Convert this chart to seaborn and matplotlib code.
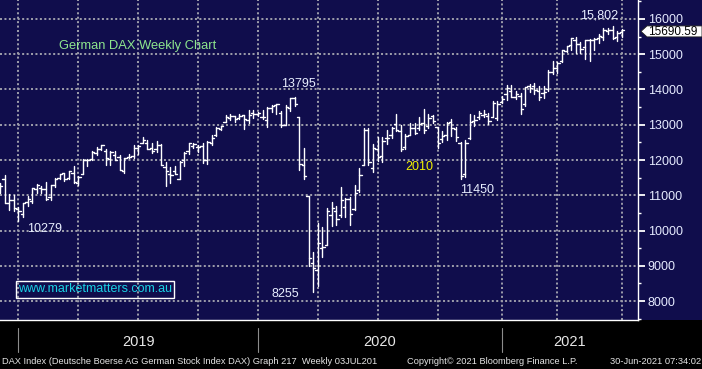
import numpy as np
import pandas as pd
import matplotlib
matplotlib.use("Agg")
import matplotlib.pyplot as plt
import matplotlib.transforms as mtransforms
from matplotlib.patches import Rectangle, Polygon
import seaborn as sns

# ---------------- data (weekly OHLC, DAX index) ----------------
week_end = [
    "2018-11-30", "2018-12-07", "2018-12-14", "2018-12-21", "2018-12-28",
    "2019-01-04", "2019-01-11", "2019-01-18", "2019-01-25", "2019-02-01", "2019-02-08", "2019-02-15", "2019-02-22",
    "2019-03-01", "2019-03-08", "2019-03-15", "2019-03-22", "2019-03-29", "2019-04-05", "2019-04-12", "2019-04-18",
    "2019-04-26", "2019-05-03", "2019-05-10", "2019-05-17", "2019-05-24", "2019-05-31", "2019-06-07", "2019-06-14",
    "2019-06-21", "2019-06-28", "2019-07-05", "2019-07-12", "2019-07-19", "2019-07-26", "2019-08-02", "2019-08-09",
    "2019-08-16", "2019-08-23", "2019-08-30", "2019-09-06", "2019-09-13", "2019-09-20", "2019-09-27", "2019-10-04",
    "2019-10-11", "2019-10-18", "2019-10-25", "2019-11-01", "2019-11-08", "2019-11-15", "2019-11-22", "2019-11-29",
    "2019-12-06", "2019-12-13", "2019-12-20", "2019-12-27",
    "2020-01-03", "2020-01-10", "2020-01-17", "2020-01-24", "2020-01-31", "2020-02-07", "2020-02-14", "2020-02-21",
    "2020-02-28", "2020-03-06", "2020-03-13", "2020-03-20", "2020-03-27", "2020-04-03", "2020-04-09", "2020-04-17",
    "2020-04-24", "2020-05-01", "2020-05-08", "2020-05-15", "2020-05-22", "2020-05-29", "2020-06-05", "2020-06-12",
    "2020-06-19", "2020-06-26", "2020-07-03", "2020-07-10", "2020-07-17", "2020-07-24", "2020-07-31", "2020-08-07",
    "2020-08-14", "2020-08-21", "2020-08-28", "2020-09-04", "2020-09-11", "2020-09-18", "2020-09-25", "2020-10-02",
    "2020-10-09", "2020-10-16", "2020-10-23", "2020-10-30", "2020-11-06", "2020-11-13", "2020-11-20", "2020-11-27",
    "2020-12-04", "2020-12-11", "2020-12-18", "2020-12-24", "2020-12-31",
    "2021-01-08", "2021-01-15", "2021-01-22", "2021-01-29", "2021-02-05", "2021-02-12", "2021-02-19", "2021-02-26",
    "2021-03-05", "2021-03-12", "2021-03-19", "2021-03-26", "2021-04-01", "2021-04-09", "2021-04-16", "2021-04-23",
    "2021-04-30", "2021-05-07", "2021-05-14", "2021-05-21", "2021-05-28", "2021-06-04", "2021-06-11", "2021-06-18",
    "2021-06-25", "2021-06-30",
]
opens = [
    11192, 11465, 10778, 10868, 10617,
    10477, 10795, 10824, 11177, 11210, 11176, 10955, 11292, 11500, 11640, 11487, 11645, 11350, 11604, 11997, 12036,
    12188, 12309, 12248, 12018, 12154, 12073, 11700, 12080, 12103, 12332, 12496, 12489, 12341, 12301, 12432, 11814,
    11597, 11680, 11466, 11991, 12264, 12395, 12361, 12405, 12001, 12485, 12700, 12877, 13074, 13200, 13255, 13205,
    13278, 13131, 13346, 13300,
    13233, 13133, 13466, 13549, 13325, 12988, 13487, 13746, 13219, 11848, 10985, 9081, 8870, 9500, 9600, 10450,
    10560, 10450, 10670, 10900, 10600, 11159, 11860, 12840, 11770, 12300, 12100, 12632, 12696, 13016, 12823, 12366,
    12711, 12910, 12899, 13063, 12956, 13235, 12950, 12600, 12700, 13070, 12880, 12484, 11600, 12618, 13116, 13208,
    13282, 13240, 13215, 13200, 13650,
    13880, 13950, 13800, 13810, 13600, 14100, 14110, 13950, 13900, 14000, 14500, 14600, 14800, 15100, 15250, 15400,
    15300, 15200, 15400, 15400, 15450, 15500, 15650, 15700, 15500, 15620,
]
highs = [
    11358, 11566, 11038, 10993, 10656,
    10768, 10979, 11206, 11311, 11267, 11368, 11304, 11476, 11617, 11640, 11686, 11823, 11540, 12024, 12021, 12253,
    12363, 12438, 12320, 12264, 12260, 12150, 12049, 12180, 12421, 12435, 12656, 12561, 12469, 12528, 12451, 11945,
    11805, 11836, 11972, 12226, 12488, 12483, 12437, 12470, 12539, 12712, 12935, 12974, 13289, 13299, 13255, 13302,
    13278, 13425, 13425, 13361,
    13425, 13503, 13549, 13596, 13401, 13551, 13756, 13795, 13220, 12329, 10985, 9382, 10201, 10112, 10625, 10819,
    10700, 11228, 10930, 10942, 11303, 11781, 12910, 12913, 12462, 12643, 12653, 12852, 12945, 13314, 12992, 12740,
    13047, 13051, 13233, 13460, 13298, 13287, 12950, 12828, 13068, 13165, 12943, 12519, 12578, 13297, 13283, 13391,
    13418, 13332, 13668, 13676, 13818,
    14132, 14132, 13952, 13900, 14080, 14169, 14197, 14111, 14100, 14557, 14804, 14775, 15107, 15245, 15460, 15502,
    15359, 15400, 15424, 15469, 15568, 15732, 15733, 15802, 15665, 15704,
]
lows = [
    11052, 10782, 10580, 10565, 10279,
    10386, 10707, 10766, 11050, 11063, 10864, 10862, 11226, 11447, 11393, 11462, 11353, 11299, 11594, 11835, 12009,
    12152, 12286, 11863, 11849, 11990, 11704, 11621, 12060, 12055, 12181, 12485, 12310, 12185, 12221, 11872, 11266,
    11351, 11596, 11456, 11839, 12174, 12329, 12216, 11916, 11875, 12439, 12680, 12847, 13067, 13129, 13066, 13159,
    12888, 13050, 13203, 13243,
    13170, 12948, 13356, 13310, 12933, 12988, 13400, 13521, 11725, 11475, 8989, 8255, 8417, 9244, 9580, 10133,
    10160, 10384, 10382, 10160, 10590, 11106, 11850, 11850, 11660, 11977, 11937, 12464, 12631, 12836, 12253, 12323,
    12700, 12739, 12861, 12770, 12900, 13038, 12342, 12500, 12580, 12667, 12531, 11450, 11530, 12593, 12973, 13160,
    13215, 13015, 13214, 13136, 13628,
    13715, 13779, 13733, 13310, 13542, 13940, 13880, 13701, 13755, 13946, 14451, 14478, 14778, 15060, 15128, 15033,
    15039, 14855, 14816, 15120, 15330, 15400, 15585, 15424, 15381, 15500,
]
closes = [
    11257, 10788, 10866, 10634, 10558,
    10767, 10887, 11205, 11282, 11181, 10907, 11300, 11457, 11602, 11458, 11686, 11364, 11526, 12010, 11999, 12222,
    12315, 12412, 12060, 12239, 12011, 11727, 12045, 12096, 12340, 12399, 12568, 12323, 12260, 12419, 11872, 11694,
    11563, 11612, 11939, 12192, 12469, 12468, 12381, 12013, 12512, 12634, 12895, 12961, 13229, 13242, 13164, 13236,
    13167, 13283, 13319, 13337,
    13219, 13483, 13526, 13577, 12982, 13514, 13745, 13579, 11890, 11542, 9232, 8929, 9633, 9526, 10565, 10626,
    10336, 10862, 10904, 10465, 11074, 11587, 12848, 11949, 12331, 12089, 12528, 12633, 12920, 12838, 12313, 12675,
    12901, 12765, 13033, 12843, 13203, 13116, 12469, 12689, 13051, 12909, 12646, 11556, 12480, 13077, 13137, 13335,
    13299, 13114, 13631, 13587, 13719,
    14049, 13788, 13874, 13433, 14057, 14050, 13993, 13786, 13920, 14502, 14621, 14749, 15107, 15234, 15460, 15280,
    15136, 15400, 15416, 15437, 15520, 15693, 15693, 15448, 15607, 15690.59,
]
y_ticks = [8000, 9000, 10000, 11000, 12000, 13000, 14000, 15000, 16000]
year_labels = ["2019", "2020", "2021"]
last_label = "15690.59"
footer_left = "DAX Index (Deutsche Boerse AG German Stock Index DAX) Graph 217  Weekly 03JUL201"
footer_mid = "Copyright\u00a9 2021 Bloomberg Finance L.P."
footer_right = "30-Jun-2021 07:34:02"

# ---------------- style ----------------
NAVY = "#100D4C"
W, H = 702, 369
sns.set_style("dark")
plt.rcParams["font.family"] = ["Liberation Sans", "DejaVu Sans"]

fig = plt.figure(figsize=(W / 100, H / 100), dpi=100, facecolor="black")
PLOT_R, PLOT_B = 638, 320
ax = fig.add_axes([0, 1 - PLOT_B / H, PLOT_R / W, PLOT_B / H])
ax.set_facecolor(NAVY)
fig.add_artist(Rectangle((PLOT_R / W, 1 - PLOT_B / H), (W - PLOT_R) / W, PLOT_B / H,
                         transform=fig.transFigure, facecolor=NAVY, edgecolor="none", zorder=-5))

# ---------------- OHLC bars through seaborn ----------------
dates = pd.to_datetime(week_end)
n = len(dates)
half = 0.5
rows = []
for i in range(n):
    rows.append((f"hl{i}", i, lows[i]))
    rows.append((f"hl{i}", i, highs[i]))
    rows.append((f"o{i}", i - half, opens[i]))
    rows.append((f"o{i}", i, opens[i]))
    rows.append((f"c{i}", i, closes[i]))
    rows.append((f"c{i}", i + half, closes[i]))
df = pd.DataFrame(rows, columns=["seg", "x", "y"])
sns.lineplot(data=df, x="x", y="y", units="seg", estimator=None, sort=False,
             color="white", lw=1.0, ax=ax, legend=False, zorder=5)

ax.set_xlim(0.022, 138.5)
ax.set_ylim(7461, 16539)
ax.set_xlabel("")
ax.set_ylabel("")
ax.grid(False)

# quarter gridlines / month ticks: last bar dated before period start
def last_before(ts):
    return int(np.searchsorted(dates.values, np.datetime64(ts)) - 1)

quarters = pd.date_range("2019-01-01", "2021-07-01", freq="QS")
months = pd.date_range("2019-01-01", "2021-07-01", freq="MS")
years = pd.date_range("2019-01-01", "2021-01-01", freq="YS")
q_pos = [last_before(q) for q in quarters]
m_pos = [last_before(m) for m in months]
y_pos = [last_before(y) for y in years]

GRID = "#9A9AA8"
for yv in y_ticks:
    ax.axhline(yv, color=GRID, lw=1.45, linestyle=(0, (1, 1.2)), zorder=1)
for xq in q_pos:
    ax.axvline(xq, color=GRID, lw=1.45, linestyle=(0, (1, 1.2)), zorder=1)

# axes / ticks
for s in ["left", "top"]:
    ax.spines[s].set_visible(False)
for s in ["right", "bottom"]:
    ax.spines[s].set_color("white")
    ax.spines[s].set_linewidth(1.0)
ax.yaxis.tick_right()
ax.set_yticks(y_ticks)
ax.set_yticklabels([str(v) for v in y_ticks])
ax.set_yticks([v + 500 for v in y_ticks[:-1]] + [7500, 16500], minor=True)
ax.tick_params(axis="y", which="major", direction="out", length=5, width=1.3,
               color="white", labelcolor="#E6EBFF", labelsize=9, pad=2)
ax.tick_params(axis="y", which="minor", direction="out", length=2.5, width=1.0, color="white")
ax.set_xticks(m_pos)
ax.set_xticklabels([])
ax.tick_params(axis="x", which="major", direction="out", length=3, width=1.0, color="white")

# year separators + labels in the black strip
blend = mtransforms.blended_transform_factory(ax.transData, fig.transFigure)
xr = ax.get_xlim()[1]
for k, (p, lab) in enumerate(zip(y_pos, year_labels)):
    ax.plot([p, p], [1 - 328 / H, 1 - 352 / H], transform=blend, color="#8C8C8C",
            lw=0.8, clip_on=False)
    nxt = y_pos[k + 1] if k + 1 < len(y_pos) else xr
    ax.text((p + nxt) / 2, 1 - 342 / H, lab, transform=blend, ha="center", va="center",
            color="#E8E8E8", fontsize=10.5)

# ---------------- annotations ----------------
def fpos(x, y):
    return x / W, 1 - y / H

TXT = "#E8EEFF"
fig.text(*fpos(138, 46), "German DAX Weekly Chart", color="#8EE68E", fontsize=9.3,
         ha="center", va="center")
fig.text(*fpos(45, 229), "10279", color=TXT, fontsize=9, ha="center", va="center")
fig.text(*fpos(298, 84), "13795", color=TXT, fontsize=9, ha="center", va="center")
fig.text(*fpos(285, 294), "8255", color=TXT, fontsize=9, ha="center", va="center")
fig.text(*fpos(419, 167), "2010", color="#F2F200", fontsize=9, ha="center", va="center")
fig.text(*fpos(477, 190), "11450", color=TXT, fontsize=9, ha="center", va="center")
fig.text(*fpos(599, 15), "15,802", color=TXT, fontsize=9, ha="center", va="center")

fig.add_artist(Rectangle(fpos(16, 298), 158 / W, 17 / H, transform=fig.transFigure,
                         facecolor="none", edgecolor="white", lw=1.0, zorder=6))
fig.text(*fpos(95, 289.5), "www.marketmatters.com.au", color="#1AD2E4", fontsize=9,
         ha="center", va="center", zorder=7)

# last price box
yc = H - ax.transData.transform((0, closes[-1]))[1] + 1.5
pts = [(641, yc), (647, yc - 5.5), (702, yc - 5.5), (702, yc + 5.5), (647, yc + 5.5)]
fig.add_artist(Polygon([fpos(px, py) for px, py in pts], closed=True, transform=fig.transFigure,
                       facecolor="white", edgecolor="#202020", lw=0.6, zorder=8))
fig.text(*fpos(648.5, yc + 0.3), last_label, color="black", fontsize=8.5, ha="left",
         va="center", zorder=9)

# footer: one common size, chosen so the left piece spans the reference width
FOOT = "#E4E4E4"
renderer = fig.canvas.get_renderer()
t_left = fig.text(*fpos(2, 361), footer_left, color=FOOT, fontsize=8, ha="left", va="center")
fsize = 8 * 378 / t_left.get_window_extent(renderer).width
t_left.set_fontsize(fsize)
fig.text(*fpos(407, 361), footer_mid, color=FOOT, fontsize=fsize, ha="left", va="center")
fig.text(*fpos(701, 361), footer_right, color=FOOT, fontsize=fsize, ha="right", va="center")

fig.savefig("out.png", dpi=100, facecolor="black")
